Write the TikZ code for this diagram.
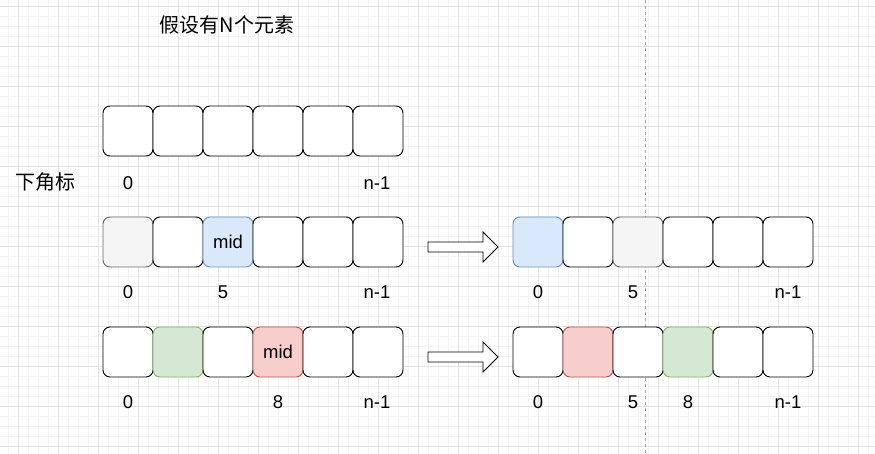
\documentclass[tikz,border=0pt]{standalone}
\usepackage{fontspec}
\setmainfont{Liberation Sans}
\newfontfamily\cjk{Noto Sans CJK SC}
\definecolor{gridmajor}{HTML}{E2E2E2}
\definecolor{gridminor}{HTML}{F3F3F3}
\definecolor{grayfill}{HTML}{F5F5F5}
\definecolor{graystroke}{HTML}{666666}
\definecolor{bluefill}{HTML}{DAE8FC}
\definecolor{bluestroke}{HTML}{6C8EBF}
\definecolor{greenfill}{HTML}{D5E8D4}
\definecolor{greenstroke}{HTML}{82B366}
\definecolor{redfill}{HTML}{F8CECC}
\definecolor{redstroke}{HTML}{B85450}
\tikzset{
  cellw/.style={draw=black, fill=white, rectangle, rounded corners=7pt, minimum width=50pt, minimum height=50pt, line width=0.9pt, inner sep=0pt, font=\fontsize{18.5}{22}\selectfont},
  cellg/.style={cellw, draw=graystroke, fill=grayfill},
  cellb/.style={cellw, draw=bluestroke, fill=bluefill},
  cellgr/.style={cellw, draw=greenstroke, fill=greenfill},
  cellr/.style={cellw, draw=redstroke, fill=redfill},
  lbl/.style={inner sep=0pt, font=\fontsize{18.5}{22}\selectfont},
  cjklbl/.style={inner sep=0pt, font=\cjk\fontsize{20}{24}\selectfont},
  hollow/.style={draw=black, fill=white, line width=0.9pt, line join=miter}
}
\begin{document}
\begin{tikzpicture}[x=1pt,y=-1pt]
\useasboundingbox (0,0) rectangle (875,454);
\fill[white] (0,0) rectangle (875,454);
% grid
\foreach \x in {8,18,...,868} \draw[gridminor, line width=0.6pt] (\x,0) -- (\x,454);
\foreach \y in {6.7,16.7,...,450} \draw[gridminor, line width=0.6pt] (0,\y) -- (875,\y);
\foreach \x in {18,58,...,858} \draw[gridmajor, line width=0.7pt] (\x,0) -- (\x,454);
\foreach \y in {6.7,46.7,...,450} \draw[gridmajor, line width=0.7pt] (0,\y) -- (875,\y);
% dashed divider
\coordinate (dtop) at (645,0);
\coordinate (dbot) at (645,454);
\draw[gray!70, dash pattern=on 3pt off 3pt, line width=0.6pt] (dtop) -- (dbot);

% title
\node[cjklbl] (title) at (227,25) {假设有N个元素};
\node[cjklbl] (sub) at (46,182) {下角标};

% row 1
\foreach \i in {0,...,5} \node[cellw] (r1c\i) at (128+50*\i,131) {};
\node[lbl] (l1a) at (128,183) {0};
\node[lbl] (l1b) at (377,183) {n-1};

% row 2 left
\foreach \i/\s/\t in {0/cellg/,1/cellw/,2/cellb/mid,3/cellw/,4/cellw/,5/cellw/} \node[\s] (r2c\i) at (128+50*\i,242) {\t};
\node[lbl] (l2a) at (128,292) {0};
\node[lbl] (l2b) at (223,292) {5};
\node[lbl] (l2c) at (377,292) {n-1};

% row 2 right
\foreach \i/\s in {0/cellb,1/cellw,2/cellg,3/cellw,4/cellw,5/cellw} \node[\s] (q2c\i) at (538+50*\i,242) {};
\node[lbl] (m2a) at (538,292) {0};
\node[lbl] (m2b) at (633,292) {5};
\node[lbl] (m2c) at (788,292) {n-1};

% row 3 left
\foreach \i/\s/\t in {0/cellw/,1/cellgr/,2/cellw/,3/cellr/mid,4/cellw/,5/cellw/} \node[\s] (r3c\i) at (128+50*\i,352) {\t};
\node[lbl] (l3a) at (128,402) {0};
\node[lbl] (l3b) at (278,402) {8};
\node[lbl] (l3c) at (377,402) {n-1};

% row 3 right
\foreach \i/\s in {0/cellw,1/cellr,2/cellw,3/cellgr,4/cellw,5/cellw} \node[\s] (q3c\i) at (538+50*\i,352) {};
\node[lbl] (m3a) at (538,402) {0};
\node[lbl] (m3b) at (633,402) {5};
\node[lbl] (m3c) at (688,402) {8};
\node[lbl] (m3d) at (788,402) {n-1};

% hollow arrows
\draw[hollow] (428,242) -- (483,242) -- (483,232) -- (498,247) -- (483,262) -- (483,252) -- (428,252) -- cycle;
\draw[hollow] (428,352) -- (483,352) -- (483,342) -- (498,357) -- (483,372) -- (483,362) -- (428,362) -- cycle;
\end{tikzpicture}
\end{document}
